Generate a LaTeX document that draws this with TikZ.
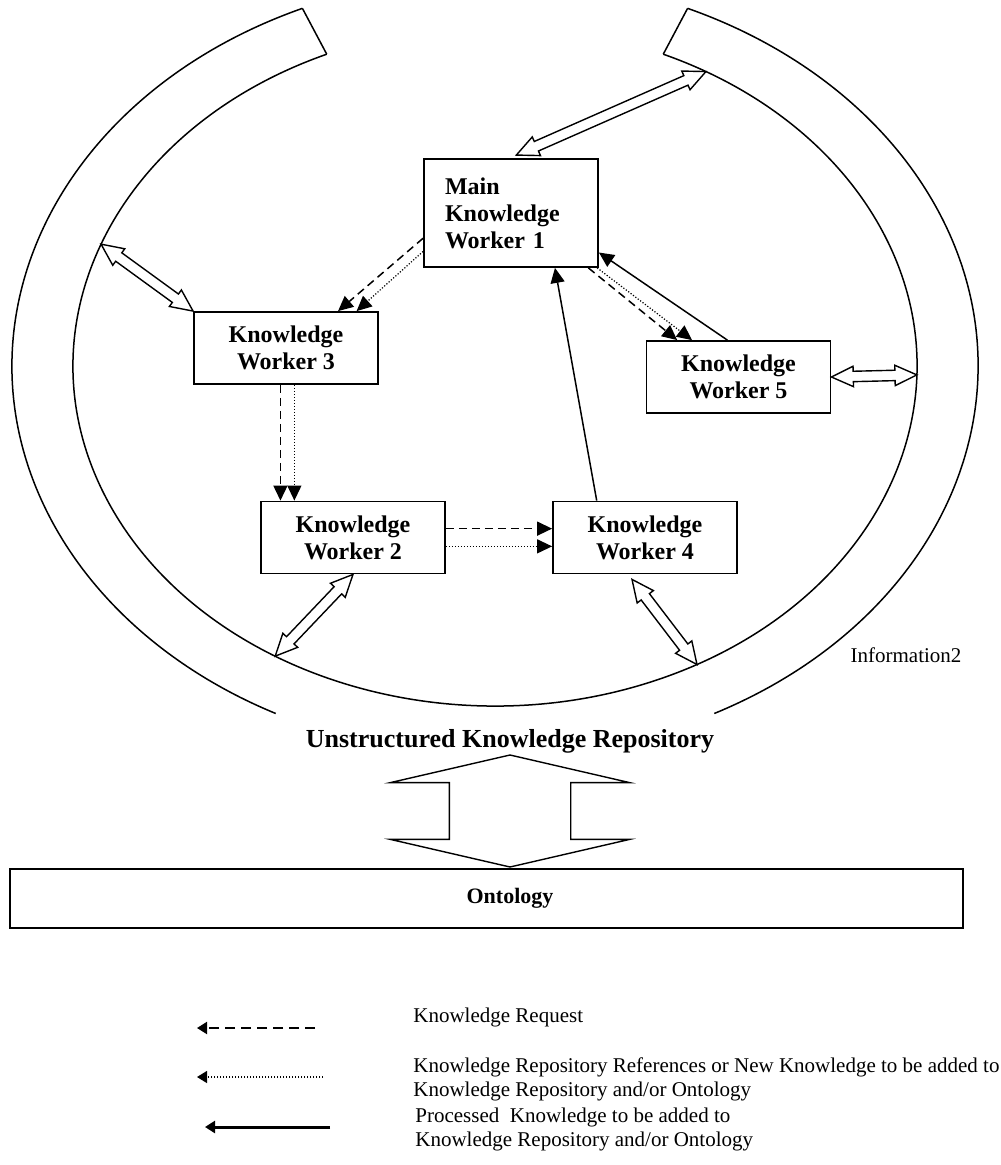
\documentclass[tikz,border=0pt]{standalone}
\usepackage{fontspec}
\setmainfont{Liberation Serif}
\usetikzlibrary{arrows.meta, calc, shapes.arrows}
\tikzset{
    worker/.style = {
      draw, line width=0.9pt, inner sep=0pt, align=center,
      minimum width=92pt, minimum height=36pt,
      font=\fontsize{12}{13.5}\selectfont\bfseries,
    },
    main worker/.style = {
      worker, minimum width=87pt, minimum height=54pt,
      text width=66pt, inner xsep=10.5pt, align=left,
    },
    ontology box/.style = {
      draw, line width=0.9pt, inner sep=0pt,
      minimum width=476.5pt, minimum height=29.5pt,
    },
    rim/.style = {line width=0.75pt},
    rim link/.style = {
      shape=double arrow, draw, line width=0.7pt, fill=white,
      inner xsep=0pt, inner ysep=2.25pt,
      minimum width=9.5pt, double arrow head extend=2.5pt, double arrow tip angle=50,
    },
    repo link/.style = {
      rim link, inner ysep=30pt, minimum width=119pt,
      double arrow head extend=29.5pt, double arrow tip angle=154,
    },
    link tip/.style = {-{Triangle[length=7.5pt, width=7pt]}},
    request/.style = {link tip, line width=0.75pt, dash pattern=on 4pt off 2.5pt},
    reference/.style = {link tip, line width=0.6pt, dash pattern=on 0.6pt off 0.9pt},
    processed/.style = {link tip, line width=0.75pt},
    key tip/.style = {-{Triangle[length=5pt, width=6pt]}},
    key request/.style = {key tip, line width=1pt, dash pattern=on 5pt off 3pt},
    key reference/.style = {key tip, line width=0.6pt, dash pattern=on 0.6pt off 0.9pt},
    key processed/.style = {key tip, line width=1.5pt},
    key text/.style = {anchor=west, align=left, inner sep=0pt, font=\fontsize{10.5}{12}\selectfont},
}
\newcommand{\rimlink}[3]{%
  %% Hollow double arrow between two named points:
  %%    1. Name of the arrow
  %%    2. One end
  %%    3. Other end
  \path let \p1 = ($(#3)-(#2)$), \n1 = {veclen(\x1,\y1)}, \n2 = {atan2(\y1,\x1)}
    in node [rim link, minimum height=\n1, rotate=\n2] (#1) at ($(#2)!0.5!(#3)$) {};
}

\begin{document}
\begin{tikzpicture}[x=0.5pt, y=-0.5pt]
  \useasboundingbox (0,0) rectangle (1000,1165);

  %% The information ring, open at the top and at the bottom
  \coordinate (ring) at (495,366);
  \draw [rim] (ring) ++(246.5:483 and 390) coordinate (outer_nw)
    arc [start angle=246.5, end angle=117, x radius=483, y radius=390];
  \draw [rim] (ring) ++(63:483 and 390)
    arc [start angle=63, end angle=-66.5, x radius=483, y radius=390] coordinate (outer_ne);
  \draw [rim] (ring) ++(246.5:422 and 340) coordinate (inner_nw)
    arc [start angle=246.5, end angle=-66.5, x radius=422, y radius=340] coordinate (inner_ne);
  \draw [rim] (outer_nw) -- (inner_nw);
  \draw [rim] (outer_ne) -- (inner_ne);
  \node [font=\fontsize{10.5}{12}\selectfont] (ring_label) at (906,655) {Information2};

  %% The knowledge workers
  \node [main worker] (kw_1) at (511,213) {Main\\Knowledge\\Worker 1};
  \node [worker] (kw_3) at (286,348) {Knowledge\\Worker 3};
  \node [worker] (kw_2) at (353,537.5) {Knowledge\\Worker 2};
  \node [worker] (kw_4) at (645,537.5) {Knowledge\\Worker 4};
  \node [worker] (kw_5) at (738.5,377) {Knowledge\\Worker 5};

  %% Exchanges between the workers and the ring
  \coordinate (rim_1) at ($(ring)+(-60:422 and 340)$);
  \coordinate (rim_3) at ($(ring)+(201:422 and 340)$);
  \coordinate (rim_5) at ($(ring)+(1.5:422 and 340)$);
  \coordinate (rim_2) at ($(ring)+(121.4:422 and 340)$);
  \coordinate (rim_4) at ($(ring)+(61.4:422 and 340)$);
  \coordinate (kw_1_top) at ($(kw_1.north west)!0.53!(kw_1.north east)+(0,-3)$);
  \coordinate (kw_4_bottom) at ($(kw_4.south west)!0.43!(kw_4.south east)+(0,5)$);
  \rimlink{link_1}{kw_1_top}{rim_1}
  \rimlink{link_3}{kw_3.north west}{rim_3}
  \rimlink{link_5}{kw_5.east}{rim_5}
  \rimlink{link_2}{kw_2.south}{rim_2}
  \rimlink{link_4}{kw_4_bottom}{rim_4}

  %% Requests, references and processed knowledge
  \draw [request] ($(kw_1.north west)!0.73!(kw_1.south west)$)
    -- ($(kw_3.north west)!0.78!(kw_3.north east)$);
  \draw [reference] ($(kw_1.north west)!0.85!(kw_1.south west)$)
    -- ($(kw_3.north west)!0.88!(kw_3.north east)$);
  \coordinate (kw_3_out_1) at ($(kw_3.south west)!0.47!(kw_3.south east)$);
  \coordinate (kw_3_out_2) at ($(kw_3.south west)!0.545!(kw_3.south east)$);
  \draw [request] (kw_3_out_1) -- (kw_3_out_1 |- kw_2.north);
  \draw [reference] (kw_3_out_2) -- (kw_3_out_2 |- kw_2.north);
  \coordinate (kw_2_out_1) at ($(kw_2.north east)!0.38!(kw_2.south east)$);
  \coordinate (kw_2_out_2) at ($(kw_2.north east)!0.62!(kw_2.south east)$);
  \draw [request] (kw_2_out_1) -- (kw_2_out_1 -| kw_4.west);
  \draw [reference] (kw_2_out_2) -- (kw_2_out_2 -| kw_4.west);
  \draw [processed] ($(kw_4.north west)!0.24!(kw_4.north east)$)
    -- ($(kw_1.south west)!0.75!(kw_1.south east)$);
  \draw [request] ($(kw_1.south west)!0.94!(kw_1.south east)$)
    -- ($(kw_5.north west)!0.17!(kw_5.north east)$);
  \draw [reference] ($(kw_1.south west)!0.99!(kw_1.south east)$)
    -- ($(kw_5.north west)!0.25!(kw_5.north east)$);
  \draw [processed] ($(kw_5.north west)!0.44!(kw_5.north east)$)
    -- ($(kw_1.north east)!0.86!(kw_1.south east)$);

  %% Repository and ontology
  \node [font=\fontsize{13}{15}\selectfont\bfseries] (repo) at (510,741)
    {Unstructured Knowledge Repository};
  \node [ontology box, label={[xshift=11.75pt, font=\fontsize{11}{13}\selectfont\bfseries]center:Ontology}]
    (ontology) at (486.5,898.5) {};
  \node [repo link, rotate=90, minimum height=56pt] (repo_link) at (510,811) {};

  %% Key
  \coordinate (key_1_start) at (315,1028);
  \coordinate (key_1_end) at (197,1028);
  \coordinate (key_2_start) at (323,1077);
  \coordinate (key_2_end) at (197,1077);
  \coordinate (key_3_start) at (330,1127);
  \coordinate (key_3_end) at (205,1127);
  \draw [key request] (key_1_start) -- (key_1_end);
  \draw [key reference] (key_2_start) -- (key_2_end);
  \draw [key processed] (key_3_start) -- (key_3_end);
  \node [key text] (key_1) at (413,1017) {Knowledge Request};
  \node [key text] (key_2) at (413,1079)
    {Knowledge Repository References or New Knowledge to be added to\\Knowledge Repository and/or Ontology};
  \node [key text] (key_3) at (415,1129)
    {Processed\ \ Knowledge to be added to\\Knowledge Repository and/or Ontology};
\end{tikzpicture}
\end{document}
